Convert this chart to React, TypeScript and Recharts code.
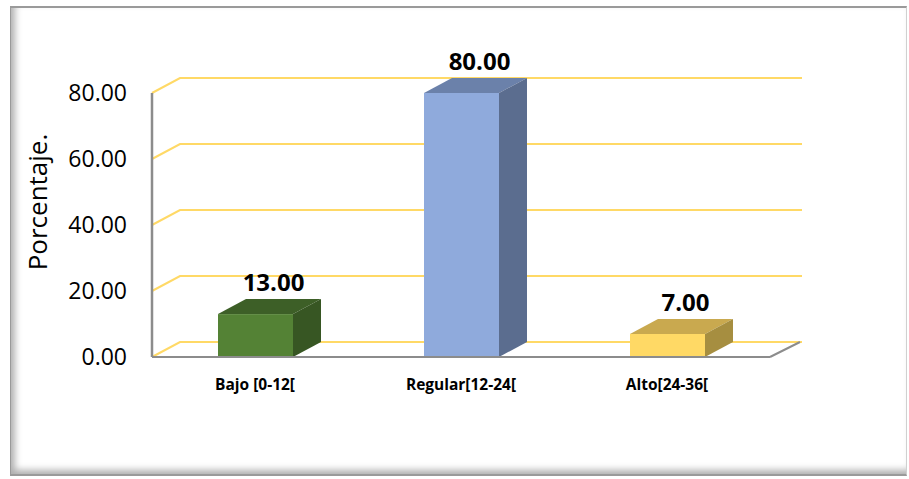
import { Bar, BarChart, CartesianGrid, LabelList, XAxis, YAxis } from 'recharts'

const categories = ['Bajo [0-12[', 'Regular[12-24[', 'Alto[24-36[']
const percentages = [13, 80, 7]
const yTicks = [0, 20, 40, 60, 80]

const data = categories.map((name, i) => ({ name, value: percentages[i] }))

// front / top / side shades for each box
const faces = [
  { front: '#548235', top: '#3d5f27', side: '#375623' },
  { front: '#8faadc', top: '#6b81aa', side: '#5b6d8f' },
  { front: '#ffd965', top: '#c9a94f', side: '#a68e40' },
]

const DEPTH_X = 28
const DEPTH_Y = 15
const FONT = '"Open Sans", sans-serif'

function Box3D(props: any) {
  const { x, y, width, height, index } = props
  const c = faces[index % faces.length]
  const top = [
    [x, y],
    [x + DEPTH_X, y - DEPTH_Y],
    [x + width + DEPTH_X, y - DEPTH_Y],
    [x + width, y],
  ]
  const side = [
    [x + width, y],
    [x + width + DEPTH_X, y - DEPTH_Y],
    [x + width + DEPTH_X, y + height - DEPTH_Y],
    [x + width, y + height],
  ]
  return (
    <g>
      <rect x={x} y={y} width={width} height={height} fill={c.front} />
      <polygon points={top.map((p) => p.join(',')).join(' ')} fill={c.top} />
      <polygon points={side.map((p) => p.join(',')).join(' ')} fill={c.side} />
    </g>
  )
}

// gridline drawn on the back wall, with a slanted piece on the side wall
function WallLine(props: any) {
  const { x1, y1, x2 } = props
  const backY = y1 - DEPTH_Y
  return (
    <g key={props.key}>
      <polyline
        points={`${x1},${y1} ${x1 + DEPTH_X},${backY} ${x2 + DEPTH_X + 4},${backY}`}
        fill="none"
        stroke="#ffd966"
        strokeWidth={2}
      />
      {props.index === 0 && (
        <line x1={x2} y1={y1} x2={x2 + DEPTH_X + 2} y2={backY} stroke="#8c8c8c" strokeWidth={2} />
      )}
    </g>
  )
}

function ValueLabel(props: any) {
  const { x, y, width, value } = props
  return (
    <text
      x={x + width / 2 + DEPTH_X / 2 + 4}
      y={y - 23}
      textAnchor="middle"
      fontFamily={FONT}
      fontWeight={700}
      fontSize={24}
      fill="#000"
    >
      {Number(value).toFixed(2)}
    </text>
  )
}

function AxisTitle() {
  return (
    <text
      x={47}
      y={202}
      transform="rotate(-90 47 202)"
      textAnchor="middle"
      fontFamily={FONT}
      fontSize={26}
      fill="#000"
    >
      Porcentaje.
    </text>
  )
}

export default function App() {
  return (
    <div style={{ position: 'absolute', left: 0, top: 0, width: 909, height: 479, background: '#fff' }}>
      <div
        style={{
          position: 'absolute',
          left: 10,
          top: 6,
          width: 897,
          height: 470,
          borderTop: '2px solid #9a9a9a',
          borderLeft: '1px solid #9a9a9a',
          borderBottom: '2px solid #9a9a9a',
          borderRight: '1px solid #d0d0d0',
          boxShadow: 'inset 9px 0 7px -5px #b0b0b0, inset 0 -9px 7px -5px #b0b0b0',
          boxSizing: 'border-box',
        }}
      />
      <BarChart
        width={909}
        height={479}
        data={data}
        margin={{ top: 93, right: 139, bottom: 0, left: 0 }}
        style={{ position: 'absolute', left: 0, top: 0 }}
      >
        <CartesianGrid vertical={false} horizontal={(p: any) => <WallLine {...p} />} />
        <XAxis
          dataKey="name"
          height={122}
          tickLine={false}
          axisLine={{ stroke: '#8c8c8c', strokeWidth: 2 }}
          tickMargin={16}
          tick={{ fontFamily: FONT, fontWeight: 700, fontSize: 15.5, fill: '#000' }}
          interval={0}
        />
        <YAxis
          width={152}
          domain={[0, 80]}
          ticks={yTicks}
          tickLine={false}
          axisLine={{ stroke: '#8c8c8c', strokeWidth: 2.5 }}
          tickMargin={19}
          tickFormatter={(v: number) => v.toFixed(2)}
          tick={{ fontFamily: FONT, fontSize: 23, fill: '#000' }}
          label={<AxisTitle />}
        />
        <Bar dataKey="value" barSize={75} shape={<Box3D />} isAnimationActive={false}>
          <LabelList dataKey="value" content={<ValueLabel />} />
        </Bar>
      </BarChart>
    </div>
  )
}
